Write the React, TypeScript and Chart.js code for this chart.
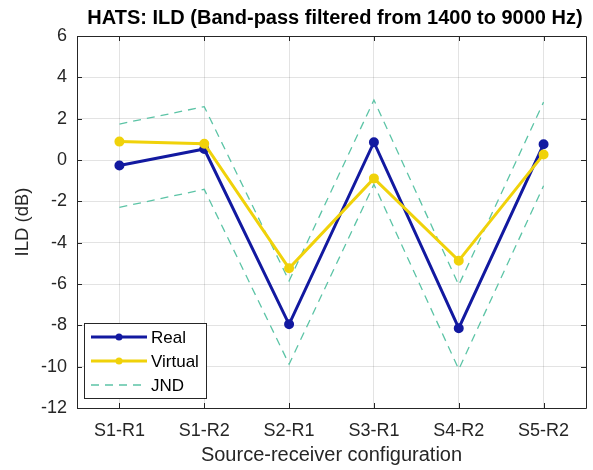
import React, { useEffect, useRef } from "react";
import { Chart, registerables } from "chart.js";

Chart.register(...registerables);

const categories = ["S1-R1", "S1-R2", "S2-R1", "S3-R1", "S4-R2", "S5-R2"];
const realValues = [-0.27, 0.53, -7.95, 0.86, -8.14, 0.76];
const virtualValues = [0.89, 0.79, -5.24, -0.89, -4.87, 0.27];
const jndUpper = [1.74, 2.58, -5.85, 2.9, -6.05, 2.8];
const jndLower = [-2.29, -1.42, -9.88, -1.18, -10.13, -1.25];
const yTicks = [-12, -10, -8, -6, -4, -2, 0, 2, 4, 6];

const TITLE = "HATS: ILD (Band-pass filtered from 1400 to 9000 Hz)";
const FONT = "'Liberation Sans', Arial, Helvetica, sans-serif";
const AXIS_COLOR = "#262626";
const REAL_COLOR = "#1219a0";
const VIRTUAL_COLOR = "#f0d20a";
const JND_COLOR = "#5cc4a6";

const boxPlugin = {
  id: "matlabBox",
  afterDraw(chart: any) {
    const { ctx, chartArea } = chart;
    const { left, right, top, bottom } = chartArea;
    const xs = chart.scales.x;
    const ys = chart.scales.y;
    ctx.save();
    ctx.strokeStyle = AXIS_COLOR;
    ctx.lineWidth = 1;
    ctx.beginPath();
    ctx.rect(Math.round(left) + 0.5, Math.round(top) + 0.5, Math.round(right - left), Math.round(bottom - top));
    ctx.stroke();
    const tl = 5;
    ctx.beginPath();
    for (let i = 0; i < categories.length; i++) {
      const x = Math.round(xs.getPixelForValue(i)) + 0.5;
      ctx.moveTo(x, bottom);
      ctx.lineTo(x, bottom - tl);
      ctx.moveTo(x, top);
      ctx.lineTo(x, top + tl);
    }
    for (const v of yTicks) {
      const y = Math.round(ys.getPixelForValue(v)) + 0.5;
      ctx.moveTo(left, y);
      ctx.lineTo(left + tl, y);
      ctx.moveTo(right, y);
      ctx.lineTo(right - tl, y);
    }
    ctx.stroke();

    // title
    ctx.fillStyle = "#000";
    ctx.font = `bold 20px ${FONT}`;
    ctx.textAlign = "center";
    ctx.textBaseline = "middle";
    ctx.fillText(TITLE, 335, 18);

    // legend
    const lx = 84, ly = 323, lw = 122, lh = 75;
    ctx.fillStyle = "#fff";
    ctx.fillRect(lx, ly, lw, lh);
    ctx.strokeStyle = AXIS_COLOR;
    ctx.lineWidth = 1;
    ctx.strokeRect(lx + 0.5, ly + 0.5, lw, lh);
    const items = [
      { ds: chart.data.datasets[0], y: 337 },
      { ds: chart.data.datasets[1], y: 361 },
      { ds: chart.data.datasets[2], y: 385 },
    ];
    ctx.font = `17px ${FONT}`;
    ctx.textAlign = "left";
    for (const it of items) {
      const ds = it.ds;
      ctx.save();
      ctx.strokeStyle = ds.borderColor;
      ctx.lineWidth = ds.borderWidth;
      ctx.setLineDash(ds.borderDash || []);
      ctx.beginPath();
      ctx.moveTo(91, it.y);
      ctx.lineTo(147, it.y);
      ctx.stroke();
      ctx.restore();
      if (ds.pointRadius > 0) {
        ctx.fillStyle = ds.pointBackgroundColor;
        ctx.beginPath();
        ctx.arc(119, it.y, ds.pointRadius, 0, Math.PI * 2);
        ctx.fill();
      }
      ctx.fillStyle = "#000";
      ctx.fillText(ds.label, 151, it.y + 1);
    }
    ctx.restore();
  },
};

export default function App() {
  const ref = useRef<HTMLCanvasElement | null>(null);
  useEffect(() => {
    document.body.style.margin = "0";
    const canvas = ref.current;
    if (!canvas) return;
    const chart = new Chart(canvas, {
      type: "line",
      data: {
        labels: categories,
        datasets: [
          {
            label: "Real",
            data: realValues,
            borderColor: REAL_COLOR,
            backgroundColor: REAL_COLOR,
            pointBackgroundColor: REAL_COLOR,
            pointBorderColor: REAL_COLOR,
            borderWidth: 3,
            pointRadius: 3.5,
            tension: 0,
            order: 1,
          },
          {
            label: "Virtual",
            data: virtualValues,
            borderColor: VIRTUAL_COLOR,
            backgroundColor: VIRTUAL_COLOR,
            pointBackgroundColor: VIRTUAL_COLOR,
            pointBorderColor: VIRTUAL_COLOR,
            borderWidth: 3,
            pointRadius: 3.5,
            tension: 0,
            order: 0,
          },
          {
            label: "JND",
            data: jndUpper,
            borderColor: JND_COLOR,
            borderWidth: 1.3,
            borderDash: [8, 6],
            pointRadius: 0,
            tension: 0,
            order: 2,
          },
          {
            label: "JND lower",
            data: jndLower,
            borderColor: JND_COLOR,
            borderWidth: 1.3,
            borderDash: [8, 6],
            pointRadius: 0,
            tension: 0,
            order: 2,
          },
        ],
      },
      options: {
        animation: false,
        responsive: false,
        maintainAspectRatio: false,
        layout: { padding: { left: 0, right: 6, top: 36, bottom: 0 } },
        plugins: {
          legend: { display: false },
          title: { display: false },
          tooltip: { enabled: false },
        },
        scales: {
          x: {
            type: "category",
            offset: true,
            grid: {
              offset: false,
              color: "rgba(38,38,38,0.13)",
              drawTicks: false,
            },
            border: { display: false },
            ticks: {
              color: AXIS_COLOR,
              font: { family: FONT, size: 18 },
              padding: 12,
              maxRotation: 0,
              autoSkip: false,
            },
            title: {
              display: true,
              text: "Source-receiver configuration",
              color: AXIS_COLOR,
              font: { family: FONT, size: 20 },
              padding: { top: 0, bottom: 3 },
            },
            afterFit(scale: any) {
              scale.height = 62;
            },
          },
          y: {
            type: "linear",
            min: -12,
            max: 6,
            afterBuildTicks(scale: any) {
              scale.ticks = yTicks.map((v) => ({ value: v }));
            },
            grid: {
              color: "rgba(38,38,38,0.13)",
              drawTicks: false,
            },
            border: { display: false },
            ticks: {
              color: AXIS_COLOR,
              font: { family: FONT, size: 18 },
              padding: 10,
            },
            title: {
              display: true,
              text: "ILD (dB)",
              color: AXIS_COLOR,
              font: { family: FONT, size: 18.5 },
              padding: { top: 12, bottom: 0 },
            },
            afterFit(scale: any) {
              scale.width = 77;
            },
          },
        },
      },
      plugins: [boxPlugin],
    });
    return () => chart.destroy();
  }, []);
  return (
    <div style={{ width: 593, height: 470, background: "#fff" }}>
      <canvas ref={ref} width={593} height={470} style={{ width: 593, height: 470, display: "block" }} />
    </div>
  );
}
